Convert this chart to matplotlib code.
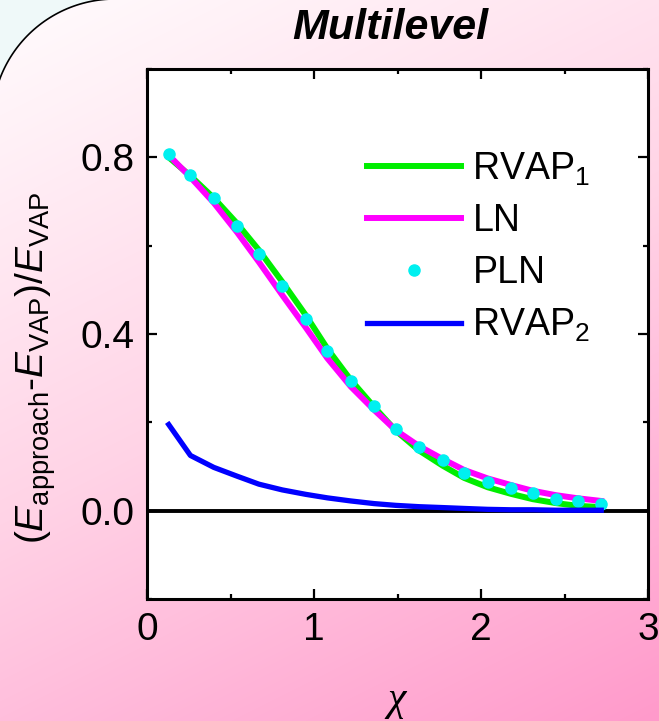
import matplotlib as mpl
mpl.use('Agg')
import matplotlib.pyplot as plt
import numpy as np
from matplotlib.patches import Polygon
from matplotlib.colors import LinearSegmentedColormap
from matplotlib.ticker import MultipleLocator, FormatStrFormatter

mpl.rcParams['font.family'] = 'Liberation Sans'
mpl.rcParams['mathtext.fontset'] = 'custom'
mpl.rcParams['mathtext.rm'] = 'Liberation Sans'
mpl.rcParams['mathtext.it'] = 'Liberation Sans:italic'
mpl.rcParams['mathtext.bf'] = 'Liberation Sans:bold'

# data
chi = [0.13, 0.26, 0.40, 0.54, 0.67, 0.81, 0.95, 1.08, 1.22, 1.36,
       1.49, 1.63, 1.77, 1.90, 2.04, 2.18, 2.31, 2.45, 2.58, 2.72]
rvap1 = [0.800, 0.758, 0.708, 0.650, 0.590, 0.518, 0.443, 0.367, 0.296, 0.235,
         0.181, 0.136, 0.102, 0.074, 0.053, 0.038, 0.026, 0.017, 0.011, 0.008]
ln = [0.805, 0.755, 0.697, 0.630, 0.563, 0.488, 0.415, 0.345, 0.281, 0.228,
      0.182, 0.146, 0.117, 0.092, 0.073, 0.058, 0.045, 0.035, 0.028, 0.022]
pln = [0.807, 0.761, 0.707, 0.645, 0.582, 0.509, 0.434, 0.361, 0.293, 0.236,
       0.186, 0.145, 0.114, 0.086, 0.066, 0.052, 0.039, 0.027, 0.022, 0.016]
rvap2 = [0.195, 0.125, 0.098, 0.078, 0.060, 0.047, 0.037, 0.029, 0.022, 0.016,
         0.012, 0.009, 0.007, 0.005, 0.003, 0.002, 0.002, 0.001, 0.001, 0.001]

W, H = 659, 721
fig = plt.figure(figsize=(W / 100, H / 100), dpi=100)
fig.patch.set_facecolor('#eff9f9')

# pink gradient panel, its top-left corner rounded (pixel coords, y down)
bg = fig.add_axes([0, 0, 1, 1], zorder=-10)
bg.axis('off')
yy, xx = np.mgrid[0:H, 0:W]
t = (0.5 * xx + yy) / (0.5 * W + H)
cmap = LinearSegmentedColormap.from_list('pk', ['#fffcfd', '#ffd3e6', '#ff9acb'])
cx, cy, r = 115, 122, 123
ang = np.linspace(np.pi, 1.5 * np.pi, 60)
corner = np.column_stack([cx + r * np.cos(ang), cy + r * np.sin(ang)])
pts = np.vstack([[[cx - r, H + 50]], corner, [[W + 50, cy - r], [W + 50, H + 50]]])
panel = Polygon(pts, closed=True, facecolor='none', edgecolor='black', linewidth=1.2)
bg.add_patch(panel)
im = bg.imshow(t, cmap=cmap, extent=(0, W, H, 0), aspect='auto')
im.set_clip_path(panel)
bg.set_xlim(0, W)
bg.set_ylim(H, 0)

ax = fig.add_axes([147 / W, 1 - 599 / H, 501 / W, 530 / H])
ax.set_facecolor('white')

ax.axhline(0, color='black', linewidth=2.8, zorder=1)
ax.plot(chi, rvap1, color='#00ee00', linewidth=4.3, label='RVAP$_1$', zorder=2)
ax.plot(chi, ln, color='#ff00ff', linewidth=4.3, label='LN', zorder=3)
ax.plot(chi, pln, 'o', color='#00f0f0', markersize=8, label='PLN', zorder=4)
ax.plot(chi, rvap2, color='#0000ff', linewidth=3.8, label='RVAP$_2$', zorder=5)

ax.set_xlim(0, 3)
ax.set_ylim(-0.2, 1.0)
ax.xaxis.set_major_locator(MultipleLocator(1))
ax.xaxis.set_minor_locator(MultipleLocator(0.5))
ax.yaxis.set_major_locator(MultipleLocator(0.4))
ax.yaxis.set_minor_locator(MultipleLocator(0.2))
ax.yaxis.set_major_formatter(FormatStrFormatter('%.1f'))
ax.tick_params(which='both', direction='in', top=True, right=True,
               labelsize=28, width=1.6)
ax.tick_params(which='major', length=7, pad=9)
ax.tick_params(which='minor', length=3.5)
for s in ax.spines.values():
    s.set_linewidth(2.2)

ax.legend(loc='upper left', bbox_to_anchor=(0.41, 0.875), frameon=False,
          fontsize=27, handlelength=2.5, handletextpad=0.3,
          labelspacing=0.42, borderaxespad=0)

fig.text(390 / W, 1 - 28 / H, 'Multilevel', fontsize=31, fontweight='bold',
         fontstyle='italic', ha='center', va='center')
fig.text(36 / W, 1 - 368 / H,
         '($E_{\\rm approach}$-$E_{\\rm VAP}$)/$E_{\\rm VAP}$',
         fontsize=28, rotation=90, ha='center', va='center')
fig.text(397 / W, 1 - 700 / H, 'χ', fontsize=30, family='Liberation Serif',
         fontstyle='italic', ha='center', va='center')

fig.savefig('out.png', dpi=100)
